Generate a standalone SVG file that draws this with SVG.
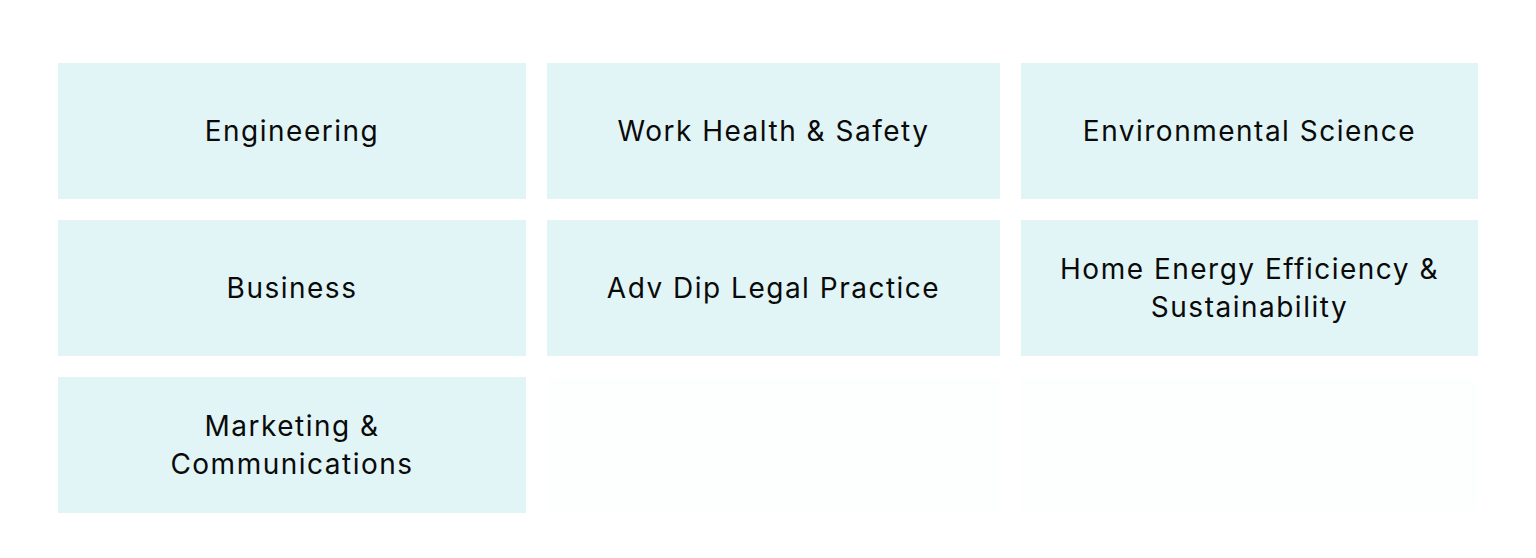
<svg xmlns="http://www.w3.org/2000/svg" width="1536" height="558" viewBox="0 0 1536 558">
<style>
.box{fill:#e2f5f6}
.ghost{fill:#fdfefe}
.t{font-family:"Inter","Liberation Sans",sans-serif;font-size:28px;fill:#0a0a0a;text-anchor:middle;dominant-baseline:central;letter-spacing:1.5px}
</style>
<rect width="1536" height="558" fill="#ffffff"/>
<g id="ghosts">
<rect class="ghost" x="547" y="378" width="453" height="133"/>
<rect class="ghost" x="1021" y="378" width="457" height="133"/>
</g>
<g id="connectors"></g>
<g id="n1"><rect class="box" x="58" y="63" width="468" height="136"/><text class="t" x="292" y="131">Engineering</text></g>
<g id="n2"><rect class="box" x="547" y="63" width="453" height="136"/><text class="t" x="773.5" y="131">Work Health &amp; Safety</text></g>
<g id="n3"><rect class="box" x="1021" y="63" width="457" height="136"/><text class="t" x="1249.5" y="131">Environmental Science</text></g>
<g id="n4"><rect class="box" x="58" y="220" width="468" height="136"/><text class="t" x="292" y="288">Business</text></g>
<g id="n5"><rect class="box" x="547" y="220" width="453" height="136"/><text class="t" x="773.5" y="288">Adv Dip Legal Practice</text></g>
<g id="n6"><rect class="box" x="1021" y="220" width="457" height="136"/><text class="t" x="1249.5" y="269">Home Energy Efficiency &amp;</text><text class="t" x="1249.5" y="307">Sustainability</text></g>
<g id="n7"><rect class="box" x="58" y="377" width="468" height="136"/><text class="t" x="292" y="426">Marketing &amp;</text><text class="t" x="292" y="464">Communications</text></g>
</svg>
